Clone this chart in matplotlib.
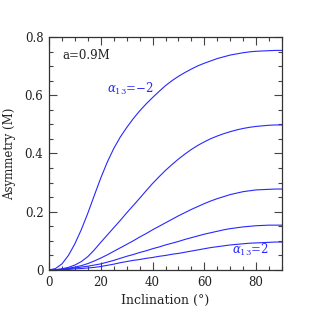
import matplotlib
matplotlib.use("Agg")
import matplotlib.pyplot as plt
from matplotlib.ticker import MultipleLocator, FuncFormatter

incl = [0, 2.5, 5, 7.5, 10, 12.5, 15, 17.5, 20, 22.5, 25, 27.5, 30, 32.5, 35, 37.5,
        40, 42.5, 45, 47.5, 50, 52.5, 55, 57.5, 60, 62.5, 65, 67.5, 70, 72.5, 75,
        77.5, 80, 82.5, 85, 87.5, 90]
asym_m2 = [0, 0.005, 0.021, 0.050, 0.090, 0.139, 0.195, 0.256, 0.316, 0.370, 0.417,
           0.456, 0.489, 0.519, 0.546, 0.570, 0.592, 0.613, 0.633, 0.650, 0.665,
           0.678, 0.690, 0.701, 0.710, 0.718, 0.726, 0.732, 0.738, 0.742, 0.746,
           0.749, 0.751, 0.752, 0.753, 0.754, 0.754]
asym_m1 = [0, 0.001, 0.004, 0.009, 0.017, 0.029, 0.046, 0.069, 0.095, 0.120, 0.145,
           0.170, 0.196, 0.221, 0.246, 0.272, 0.297, 0.320, 0.342, 0.362, 0.381,
           0.398, 0.414, 0.428, 0.440, 0.451, 0.460, 0.468, 0.475, 0.481, 0.486,
           0.490, 0.493, 0.495, 0.497, 0.498, 0.498]
asym_0 = [0, 0.001, 0.003, 0.006, 0.010, 0.015, 0.022, 0.031, 0.041, 0.052, 0.064,
          0.076, 0.088, 0.100, 0.113, 0.125, 0.138, 0.150, 0.162, 0.174, 0.186,
          0.197, 0.208, 0.218, 0.228, 0.237, 0.245, 0.252, 0.259, 0.264, 0.269,
          0.272, 0.275, 0.276, 0.277, 0.278, 0.278]
asym_p1 = [0, 0.0006, 0.002, 0.004, 0.007, 0.010, 0.013, 0.017, 0.021, 0.027, 0.033,
           0.040, 0.047, 0.053, 0.060, 0.066, 0.073, 0.079, 0.086, 0.092, 0.098,
           0.105, 0.111, 0.117, 0.123, 0.128, 0.133, 0.138, 0.142, 0.145, 0.148,
           0.150, 0.152, 0.153, 0.154, 0.154, 0.154]
asym_p2 = [0, 0.0003, 0.001, 0.002, 0.004, 0.005, 0.007, 0.009, 0.012, 0.016, 0.020,
           0.025, 0.029, 0.033, 0.036, 0.040, 0.043, 0.047, 0.050, 0.054, 0.057,
           0.061, 0.065, 0.069, 0.073, 0.077, 0.080, 0.083, 0.086, 0.088, 0.090,
           0.092, 0.093, 0.094, 0.095, 0.096, 0.096]

line_color = '#2828ff'

plt.rcParams['font.family'] = ['DejaVu Serif']
plt.rcParams['mathtext.fontset'] = 'dejavuserif'

fig = plt.figure(figsize=(3.19, 3.19), dpi=100)
ax = fig.add_axes([49/319, 49/319, 233/319, 233/319])

for ys in [asym_m2, asym_m1, asym_0, asym_p1, asym_p2]:
    ax.plot(incl, ys, color=line_color, lw=0.8)

ax.set_xlim(0, 90)
ax.set_ylim(0, 0.8)
ax.xaxis.set_major_locator(MultipleLocator(20))
ax.xaxis.set_minor_locator(MultipleLocator(5))
ax.yaxis.set_major_locator(MultipleLocator(0.2))
ax.yaxis.set_minor_locator(MultipleLocator(0.05))
ax.yaxis.set_major_formatter(FuncFormatter(lambda v, p: '0' if abs(v) < 1e-9 else f'{v:.1f}'))
ax.tick_params(which='both', direction='in', top=True, right=True, labelsize=8.5,
               color='#444444', labelcolor='#222222', width=0.8, pad=4)
ax.tick_params(which='major', length=6)
ax.tick_params(which='minor', length=3)
for s in ax.spines.values():
    s.set_color('#333333')
    s.set_linewidth(0.9)

ax.set_xlabel('Inclination (°)', fontsize=9, labelpad=4, color='#222222')
ax.set_ylabel('Asymmetry (M)', fontsize=8.5, labelpad=6, color='#222222')

ax.text(5, 0.735, 'a=0.9M', fontsize=8.5, va='center', ha='left', color='#222222')
ax.text(22.5, 0.62, r'$\alpha_{13}$=−2', fontsize=8.5, color=line_color, va='center', ha='left')
ax.text(70.5, 0.068, r'$\alpha_{13}$=2', fontsize=8.5, color=line_color, va='center', ha='left')

fig.savefig('out.png', dpi=100)
